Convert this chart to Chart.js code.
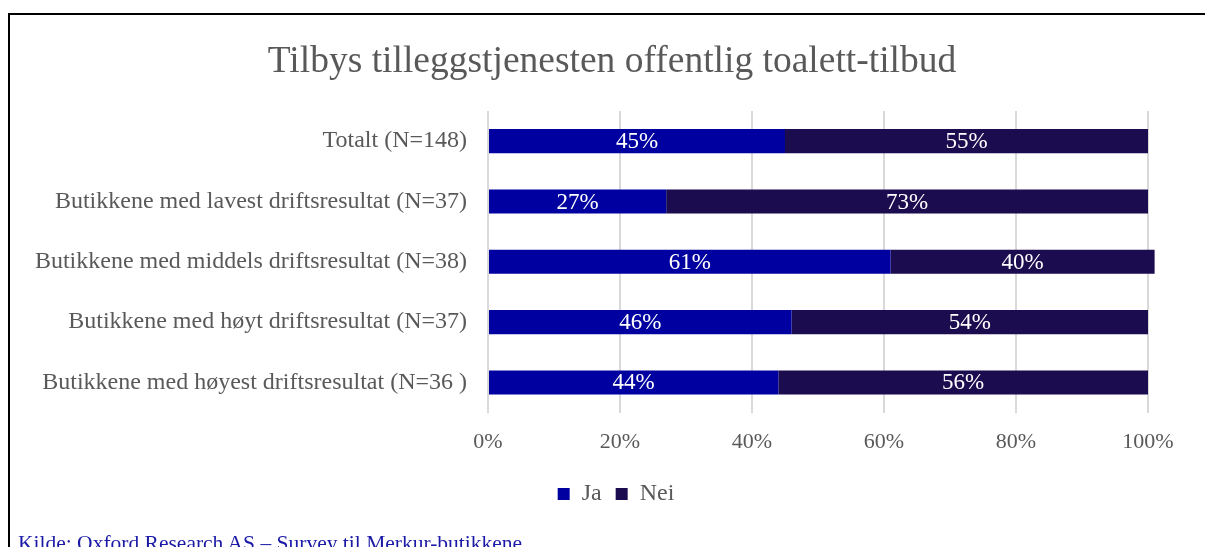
<!DOCTYPE html>
<html>
<head>
<meta charset="utf-8">
<script src="https://cdn.jsdelivr.net/npm/chart.js@4.4.0/dist/chart.umd.min.js"></script>
<style>
  body { margin: 0; background: #fff; overflow: hidden; }
  .wrap { position: relative; width: 1205px; height: 547px; }
  .frame { position: absolute; left: 8px; top: 13px; right: 0; bottom: 0;
           border-top: 2px solid #000; border-left: 2px solid #000; }
  .kilde { position: absolute; left: 18px; top: 531px; font: 21.5px "Liberation Serif", serif;
           color: #1a1aa6; white-space: nowrap; }
  canvas { position: absolute; left: 0; top: 0; }
</style>
</head>
<body>
<div class="wrap">
  <div class="frame"></div>
  <canvas id="toalettChart" width="1205" height="547"></canvas>
  <div class="kilde">Kilde: Oxford Research AS – Survey til Merkur-butikkene</div>
</div>
<script>
const kategorier = [
  "Totalt (N=148)",
  "Butikkene med lavest driftsresultat (N=37)",
  "Butikkene med middels driftsresultat (N=38)",
  "Butikkene med høyt driftsresultat (N=37)",
  "Butikkene med høyest driftsresultat (N=36 )"
];
const ja  = [45, 27, 61, 46, 44];
const nei = [55, 73, 40, 54, 56];
const xTicks = [0, 20, 40, 60, 80, 100];

const serif = "'Liberation Serif', 'Times New Roman', serif";
const grey = "#595959";

// writes the percentage in the middle of each bar segment
const verdiEtiketter = {
  id: "verdiEtiketter",
  afterDatasetsDraw(chart) {
    const ctx = chart.ctx;
    ctx.save();
    ctx.font = "23px " + serif;
    ctx.fillStyle = "#fff";
    ctx.textAlign = "center";
    ctx.textBaseline = "middle";
    chart.data.datasets.forEach((ds, i) => {
      chart.getDatasetMeta(i).data.forEach((bar, j) => {
        const p = bar.getCenterPoint();
        ctx.fillText(ds.data[j] + "%", p.x, p.y + 1);
      });
    });
    ctx.restore();
  }
};

// title and legend are centred on the page rather than the layout box
const plassering = {
  id: "plassering",
  afterLayout(chart) {
    chart.titleBlock.left += 38;
    chart.titleBlock.right += 38;
    chart.legend.left += 42;
    chart.legend.right += 42;
    chart.legend.top -= 3;
    chart.legend.bottom -= 3;
  }
};

new Chart(document.getElementById("toalettChart"), {
  type: "bar",
  data: {
    labels: kategorier,
    datasets: [
      { label: "Ja", data: ja, backgroundColor: "#0000a0", clip: false,
        barPercentage: 0.8, categoryPercentage: 0.5 },
      { label: "Nei", data: nei, backgroundColor: "#1b0b4f", clip: false,
        barPercentage: 0.8, categoryPercentage: 0.5 }
    ]
  },
  options: {
    indexAxis: "y",
    responsive: false,
    animation: false,
    layout: { padding: { left: 0, right: 57, top: 0, bottom: 28 } },
    scales: {
      x: {
        stacked: true,
        min: 0,
        max: 100,
        afterBuildTicks: s => { s.ticks = xTicks.map(v => ({ value: v })); },
        ticks: { callback: v => v + "%", color: grey, padding: 16,
                 font: { family: serif, size: 22 } },
        grid: { color: "#d9d9d9", lineWidth: 2, drawTicks: false },
        border: { display: false }
      },
      y: {
        stacked: true,
        afterFit: s => { s.width = 488; },
        ticks: { color: grey, padding: 21, font: { family: serif, size: 24 } },
        grid: { display: false, drawTicks: false },
        border: { display: false }
      }
    },
    plugins: {
      title: {
        display: true,
        text: "Tilbys tilleggstjenesten offentlig toalett-tilbud",
        color: grey,
        font: { family: serif, size: 37.5, weight: "normal" },
        padding: { top: 40, bottom: 26 }
      },
      legend: {
        position: "bottom",
        labels: { color: grey, boxWidth: 12, boxHeight: 12, padding: 14,
                  font: { family: serif, size: 24 } }
      },
      tooltip: { enabled: false }
    }
  },
  plugins: [verdiEtiketter, plassering]
});
</script>
</body>
</html>
